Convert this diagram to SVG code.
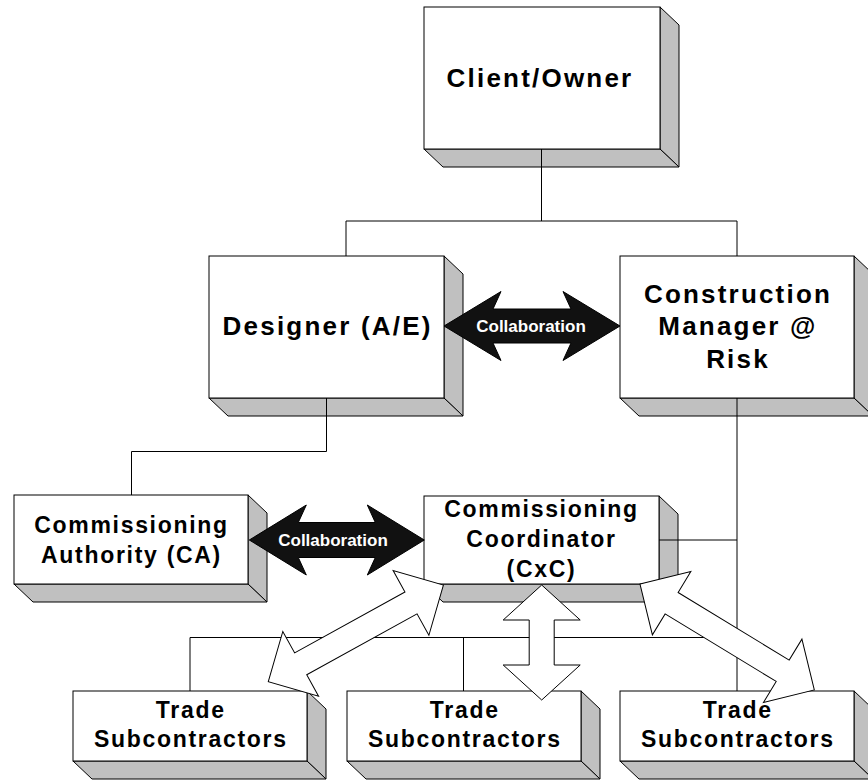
<svg xmlns="http://www.w3.org/2000/svg" width="868" height="780" viewBox="0 0 868 780">
<style>
.front{fill:#fff;stroke:#000;stroke-width:1}
.side{fill:#c0c0c0;stroke:#000;stroke-width:1}
.t{font-family:"Liberation Sans",Arial,sans-serif;font-weight:bold;fill:#000;text-anchor:middle}
.lg{font-size:26px;letter-spacing:2.2px}
.md{font-size:23px;letter-spacing:1.7px}
.cl{font-family:"Liberation Sans",Arial,sans-serif;font-weight:bold;font-size:17px;fill:#fff;text-anchor:middle}
.ln{fill:none;stroke:#000;stroke-width:1}
.wa{fill:#fff;stroke:#000;stroke-width:1;stroke-linejoin:miter}
.ba{fill:#111;stroke:#000;stroke-width:1}
</style>
<rect width="868" height="780" fill="#fff"/>

<g id="client">
<polygon class="side" points="660,7 679,25 679,167 660,149"/>
<polygon class="side" points="424,149 660,149 679,167 443,167"/>
<rect class="front" x="424" y="7" width="236" height="142"/>
<text class="t lg" x="540" y="87">Client/Owner</text>
</g>

<g id="designer">
<polygon class="side" points="444,256 463,274 463,416 444,398"/>
<polygon class="side" points="209,398 444,398 463,416 228,416"/>
<rect class="front" x="209" y="256" width="235" height="142"/>
<text class="t lg" x="327.6" y="335">Designer (A/E)</text>
</g>

<g id="cm">
<polygon class="side" points="854,256 873,274 873,416 854,398"/>
<polygon class="side" points="620,398 854,398 873,416 639,416"/>
<rect class="front" x="620" y="256" width="234" height="142"/>
<text class="t lg" x="738" y="302.5">Construction</text>
<text class="t lg" x="738" y="335">Manager @</text>
<text class="t lg" x="738" y="367.5">Risk</text>
</g>

<g id="ca">
<polygon class="side" points="248,495 267,513 267,602 248,584"/>
<polygon class="side" points="14,584 248,584 267,602 33,602"/>
<rect class="front" x="14" y="495" width="234" height="89"/>
<text class="t md" x="131.5" y="533">Commissioning</text>
<text class="t md" x="131.5" y="563">Authority (CA)</text>
</g>

<g id="cxc">
<polygon class="side" points="659,496 678,514 678,602 659,584"/>
<polygon class="side" points="424,584 659,584 678,602 443,602"/>
<rect class="front" x="424" y="496" width="235" height="88"/>
<text class="t md" x="541.5" y="517">Commissioning</text>
<text class="t md" x="541.5" y="547">Coordinator</text>
<text class="t md" x="541.5" y="576.5">(CxC)</text>
</g>

<g id="trade1">
<polygon class="side" points="307,691 326,709 326,779 307,761"/>
<polygon class="side" points="73,761 307,761 326,779 92,779"/>
<rect class="front" x="73" y="691" width="234" height="70"/>
<text class="t md" x="190.8" y="718.3">Trade</text>
<text class="t md" x="190.8" y="746.7">Subcontractors</text>
</g>

<g id="trade2">
<polygon class="side" points="581,691 600,709 600,779 581,761"/>
<polygon class="side" points="347,761 581,761 600,779 366,779"/>
<rect class="front" x="347" y="691" width="234" height="70"/>
<text class="t md" x="464.8" y="718.3">Trade</text>
<text class="t md" x="464.8" y="746.7">Subcontractors</text>
</g>

<g id="trade3">
<polygon class="side" points="854,691 873,709 873,779 854,761"/>
<polygon class="side" points="620,761 854,761 873,779 639,779"/>
<rect class="front" x="620" y="691" width="234" height="70"/>
<text class="t md" x="737.8" y="718.3">Trade</text>
<text class="t md" x="737.8" y="746.7">Subcontractors</text>
</g>

<g id="connectors">
<polyline class="ln" points="541.5,149 541.5,221"/>
<polyline class="ln" points="346,256 346,221 737,221 737,256"/>
<polyline class="ln" points="326.5,398 326.5,451.5 131.5,451.5 131.5,495"/>
<polyline class="ln" points="737,398 737,691"/>
<polyline class="ln" points="659,540 737,540"/>
<polyline class="ln" points="190,691 190,637.5 737,637.5"/>
<polyline class="ln" points="463.5,637.5 463.5,691"/>
</g>

<g id="collab-top">
<polygon class="ba" points="444,326 501,291.5 493,309 571,309 563,291.5 620,326 563,360.5 571,343 493,343 501,360.5"/>
<text class="cl" x="531" y="332.3">Collaboration</text>
</g>

<g id="collab-bottom">
<polygon class="ba" points="249.3,540 306.3,505 298.3,522.5 375.3,522.5 367.3,505 424.3,540 367.3,575 375.3,557.5 298.3,557.5 306.3,575"/>
<text class="cl" x="333" y="546">Collaboration</text>
</g>

<g id="arrow-left">
<polygon class="wa" transform="translate(268.3,681.7) rotate(-28.9)" points="0,0 37,-37 37,-12.5 163,-12.5 163,-37 200,0 163,37 163,12.5 37,12.5 37,37"/>
</g>
<g id="arrow-mid">
<polygon class="wa" points="541.7,585 580.2,620 554.2,620 554.2,665 580.2,665 541.7,700 503.2,665 529.2,665 529.2,620 503.2,620"/>
</g>
<g id="arrow-right">
<polygon class="wa" transform="translate(640,584) rotate(31.3)" points="0,0 37,-37 37,-12.5 167,-12.5 167,-37 204,0 167,37 167,12.5 37,12.5 37,37"/>
</g>
</svg>
